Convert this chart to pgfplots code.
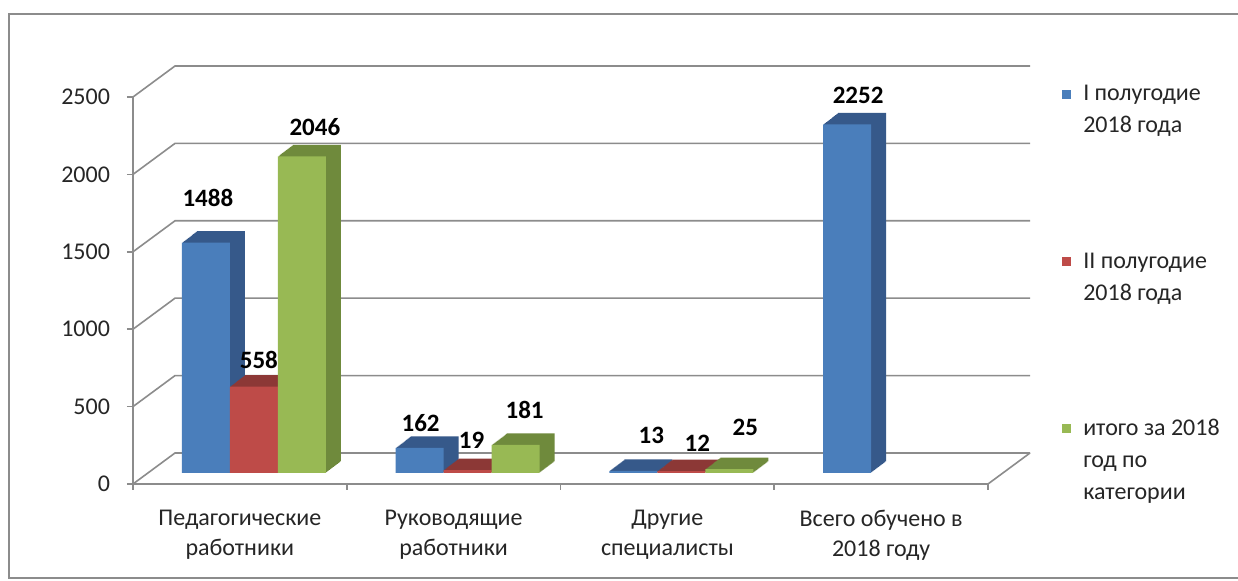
\documentclass[border=0pt]{standalone}
\usepackage{fontspec}
\setmainfont{Carlito}
\usepackage{pgfplots}
\pgfplotsset{compat=1.18}
\usepackage{pgfplotstable}
\renewcommand{\arraystretch}{1.33}
\definecolor{bluef}{HTML}{4A7EBB}
\definecolor{blued}{HTML}{36598A}
\definecolor{redf}{HTML}{BE4B48}
\definecolor{redd}{HTML}{8C3836}
\definecolor{greenf}{HTML}{98B954}
\definecolor{greend}{HTML}{6F8A3C}
\definecolor{gridc}{HTML}{8C8C8C}
\pgfplotsset{/pgf/number format/assume math mode=true, /pgf/number format/1000 sep={}}

\pgfplotstableread{
x y lx ly
-0.2246 1488 1 22.5
0.7754 162 0.5 12.5
1.7754 13 9 18
2.7754 2252 5.5 14.5
}\blueT
\pgfplotstableread{
x y lx ly
0 558 2.5 13.5
1 19 2 15
2 12 8 14
}\redT
\pgfplotstableread{
x y lx ly
0.2246 2046 6.5 14.5
1.2246 181 4.5 17.5
2.2246 25 8 21
}\greenT

\begin{document}
\begin{tikzpicture}[x=1pt,y=1pt]
\useasboundingbox (0,0) rectangle (619,290.5);
\fill[white] (0,0) rectangle (619,290.5);
\draw[gridc, line width=1pt] (4.5,1.5) rectangle (630,283.5);

\begin{axis}[
  at={(66.5pt,48.5pt)}, anchor=south west, scale only axis,
  width=427.5pt, height=193.5pt,
  xmin=-0.5, xmax=3.5, ymin=0, ymax=2500, clip=false,
  axis x line*=bottom, axis y line*=left,
  axis line style={gridc, line width=0.8pt, -},
  ytick={0,500,1000,1500,2000,2500},
  xtick={0,1,2,3},
  xticklabels={{Педагогические\\работники},{Руководящие\\работники},{Другие\\специалисты},{Всего обучено в\\2018 году}},
  major x tick style={draw=none},
  minor xtick={-0.5,0.5,1.5,2.5,3.5},
  tick align=outside, major tick length=3pt, minor tick length=3pt,
  tick style={gridc, line width=0.8pt},
  ticklabel style={font=\fontsize{12}{15}\selectfont, text=black!85},
  xticklabel style={align=center, yshift=-6.5pt},
  yticklabel style={xshift=-5pt},
  scaled y ticks=false,
]
\pgfplotsinvokeforeach{0,500,1000,1500,2000,2500}{%
  \draw[gridc, line width=0.8pt] (axis cs:-0.5,#1) -- ++(21pt,15.5pt) -- ++(427.5pt,0pt);}
\draw[gridc, line width=0.8pt] (axis cs:3.5,0) -- ++(21pt,15.5pt);
\end{axis}

\begin{axis}[
  at={(73.5pt,54pt)}, anchor=south west, scale only axis,
  width=427.5pt, height=193.5pt,
  xmin=-0.5, xmax=3.5, ymin=0, ymax=2500, clip=false,
  hide axis,
  legend style={at={(1.070,1.02)}, anchor=north west, draw=none, fill=none,
    inner sep=0pt, row sep=71pt, column sep=6pt,
    font=\fontsize{12}{12}\selectfont, text=black!85,
    cells={anchor=base west}, nodes={inner sep=0pt}},
  every node near coord/.append style={anchor=center, font=\bfseries\fontsize{12.5}{14}\selectfont, text=black},
]
% blue
\pgfplotsinvokeforeach{1,...,15}{%
  \addplot[ybar, bar width=0.2246, bar shift=0pt, fill=blued, draw=none, forget plot,
    xshift=#1*0.5pt, yshift=#1*0.383pt] table[x=x,y=y]{\blueT};}
\addplot[ybar, bar width=0.2246, bar shift=0pt, fill=bluef, draw=none,
  legend image code/.code={\fill[bluef] (0pt,1.2pt) rectangle (4.5pt,5.6pt);},
  nodes near coords,
  visualization depends on={\thisrow{lx}\as\lx},
  visualization depends on={\thisrow{ly}\as\ly},
  every node near coord/.append style={xshift=\lx pt, yshift=\ly pt}]
  table[x=x,y=y]{\blueT};
\addlegendentry{\begin{tabular}[t]{@{}l@{}}I полугодие\\2018 года\end{tabular}}
% red
\pgfplotsinvokeforeach{1,...,15}{%
  \addplot[ybar, bar width=0.2246, bar shift=0pt, fill=redd, draw=none, forget plot,
    xshift=#1*0.5pt, yshift=#1*0.383pt] table[x=x,y=y]{\redT};}
\addplot[ybar, bar width=0.2246, bar shift=0pt, fill=redf, draw=none,
  legend image code/.code={\fill[redf] (0pt,1.2pt) rectangle (4.5pt,5.6pt);},
  nodes near coords,
  visualization depends on={\thisrow{lx}\as\lx},
  visualization depends on={\thisrow{ly}\as\ly},
  every node near coord/.append style={xshift=\lx pt, yshift=\ly pt}]
  table[x=x,y=y]{\redT};
\addlegendentry{\begin{tabular}[t]{@{}l@{}}II полугодие\\2018 года\end{tabular}}
% green
\pgfplotsinvokeforeach{1,...,15}{%
  \addplot[ybar, bar width=0.2246, bar shift=0pt, fill=greend, draw=none, forget plot,
    xshift=#1*0.5pt, yshift=#1*0.383pt] table[x=x,y=y]{\greenT};}
\addplot[ybar, bar width=0.2246, bar shift=0pt, fill=greenf, draw=none,
  legend image code/.code={\fill[greenf] (0pt,1.2pt) rectangle (4.5pt,5.6pt);},
  nodes near coords,
  visualization depends on={\thisrow{lx}\as\lx},
  visualization depends on={\thisrow{ly}\as\ly},
  every node near coord/.append style={xshift=\lx pt, yshift=\ly pt}]
  table[x=x,y=y]{\greenT};
\addlegendentry{\begin{tabular}[t]{@{}l@{}}итого за 2018\\год по\\категории\end{tabular}}
\end{axis}
\end{tikzpicture}
\end{document}
